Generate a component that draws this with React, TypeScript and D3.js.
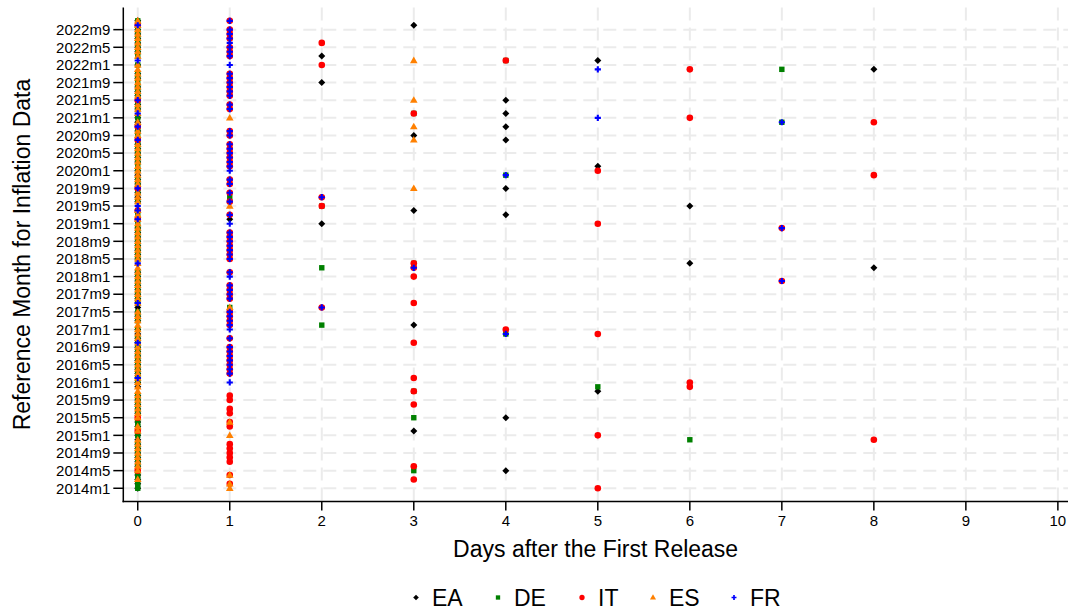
import React from 'react';
import * as d3 from 'd3';

const W = 1071;
const H = 613;

// reference months are indexed from 2014m1 (= 0); 2022m9 = 104, 2022m11 = 106
const Y_TICK_LABELS = [
  "2014m1", "2014m5", "2014m9", "2015m1", "2015m5", "2015m9", "2016m1", "2016m5", "2016m9",
  "2017m1", "2017m5", "2017m9", "2018m1", "2018m5", "2018m9", "2019m1", "2019m5", "2019m9",
  "2020m1", "2020m5", "2020m9", "2021m1", "2021m5", "2021m9", "2022m1", "2022m5", "2022m9",
];
const X_TICKS = [0, 1, 2, 3, 4, 5, 6, 7, 8, 9, 10];

const COUNTRIES = ["EA", "DE", "IT", "ES", "FR"];
const COLORS = ["#000000", "#008000", "#ff0000", "#ff8000", "#0000ff"];

// runs: [days after first release, first month, last month]
const EA_RUNS = [
  [0, 0, 3], [0, 5, 12], [0, 14, 15], [0, 17, 21], [0, 23, 36], [0, 38, 49], [0, 52, 59],
  [0, 65, 67], [0, 69, 72], [0, 74, 78], [0, 81, 81], [0, 83, 84], [0, 86, 87], [0, 89, 91],
  [0, 93, 94], [0, 96, 96], [0, 99, 104], [0, 106, 106],
  [1, 61, 61], [2, 60, 60], [2, 92, 92], [2, 98, 98],
  [3, 13, 13], [3, 37, 37], [3, 63, 63], [3, 80, 80], [3, 105, 105],
  [4, 4, 4], [4, 16, 16], [4, 62, 62], [4, 68, 68], [4, 79, 79], [4, 82, 82], [4, 85, 85], [4, 88, 88],
  [5, 22, 22], [5, 73, 73], [5, 97, 97], [6, 51, 51], [6, 64, 64], [8, 50, 50], [8, 95, 95],
];

const DE_RUNS = [
  [0, 0, 3], [0, 5, 10], [0, 12, 15], [0, 17, 21], [0, 24, 34], [0, 36, 36], [0, 38, 40],
  [0, 42, 49], [0, 52, 63], [0, 65, 65], [0, 67, 70], [0, 72, 82], [0, 84, 84], [0, 86, 94],
  [0, 96, 96], [0, 98, 106],
  [1, 41, 41], [1, 66, 66], [2, 37, 37], [2, 50, 50], [2, 64, 64],
  [3, 4, 4], [3, 16, 16], [3, 22, 22], [3, 51, 51], [3, 85, 85],
  [4, 35, 35], [4, 71, 71], [4, 97, 97], [5, 23, 23], [6, 11, 11], [7, 83, 83], [7, 95, 95],
];

const IT_RUNS = [
  [0, 4, 4], [0, 13, 13], [0, 16, 16], [0, 61, 61], [0, 63, 63], [0, 68, 68], [0, 79, 79],
  [0, 82, 82], [0, 88, 88], [0, 105, 105],
  [1, 1, 1], [1, 3, 3], [1, 6, 10], [1, 14, 15], [1, 17, 18], [1, 20, 21], [1, 26, 32],
  [1, 34, 34], [1, 37, 40], [1, 43, 46], [1, 49, 49], [1, 52, 58], [1, 62, 62], [1, 65, 65],
  [1, 67, 67], [1, 69, 70], [1, 73, 78], [1, 80, 81], [1, 86, 87], [1, 89, 94], [1, 98, 100],
  [1, 102, 104], [1, 106, 106],
  [2, 41, 41], [2, 64, 64], [2, 66, 66], [2, 96, 96], [2, 101, 101],
  [3, 2, 2], [3, 5, 5], [3, 19, 19], [3, 22, 22], [3, 25, 25], [3, 33, 33], [3, 42, 42],
  [3, 48, 48], [3, 50, 50], [3, 51, 51], [3, 85, 85],
  [4, 36, 36], [4, 97, 97],
  [5, 0, 0], [5, 12, 12], [5, 35, 35], [5, 60, 60], [5, 72, 72],
  [6, 23, 23], [6, 24, 24], [6, 84, 84], [6, 95, 95],
  [7, 47, 47], [7, 59, 59], [8, 11, 11], [8, 71, 71], [8, 83, 83],
];

const ES_RUNS = [
  [0, 2, 2], [0, 4, 11], [0, 13, 14], [0, 16, 40], [0, 42, 63], [0, 65, 67], [0, 69, 78],
  [0, 80, 81], [0, 83, 83], [0, 85, 87], [0, 89, 96], [0, 98, 106],
  [1, 0, 1], [1, 3, 3], [1, 12, 12], [1, 15, 15], [1, 41, 41], [1, 64, 64], [1, 84, 84],
  [3, 68, 68], [3, 79, 79], [3, 82, 82], [3, 88, 88], [3, 97, 97],
];

const FR_RUNS = [
  [0, 25, 25], [0, 33, 33], [0, 42, 42], [0, 51, 51], [0, 61, 61], [0, 63, 64], [0, 68, 68],
  [0, 79, 79], [0, 82, 82], [0, 85, 85], [0, 88, 88], [0, 97, 97], [0, 105, 105],
  [1, 24, 24], [1, 26, 32], [1, 34, 34], [1, 36, 40], [1, 43, 46], [1, 48, 49], [1, 52, 58],
  [1, 60, 60], [1, 62, 62], [1, 65, 65], [1, 67, 67], [1, 69, 70], [1, 72, 78], [1, 80, 81],
  [1, 86, 87], [1, 89, 94], [1, 96, 96], [1, 98, 104], [1, 106, 106],
  [2, 41, 41], [2, 66, 66], [3, 50, 50], [4, 35, 35], [4, 71, 71], [5, 84, 84], [5, 95, 95],
  [7, 47, 47], [7, 59, 59], [7, 83, 83],
];

const SERIES_RUNS = [EA_RUNS, DE_RUNS, IT_RUNS, ES_RUNS, FR_RUNS];

const FONT = "'Liberation Sans', Arial, Helvetica, sans-serif";
const LEGEND_X = [416, 498, 582, 653, 734];

const monthIndex = (label: string) => {
  const [y, m] = label.split("m").map(Number);
  return (y - 2014) * 12 + (m - 1);
};

const expand = (runs: number[][]) =>
  runs.flatMap(([day, a, b]) => d3.range(a, b + 1).map(t => ({ day, t })));

function Marker({ kind, x, y, color, k = 1 }: { kind: number; x: number; y: number; color: string; k?: number }) {
  if (kind === 0) {
    const r = 3.5 * k;
    return <path d={`M${x},${y - r}L${x + r},${y}L${x},${y + r}L${x - r},${y}Z`} fill={color} />;
  }
  if (kind === 1) {
    const s = 5.4 * k;
    return <rect x={x - s / 2} y={y - s / 2} width={s} height={s} fill={color} />;
  }
  if (kind === 2) {
    return <circle cx={x} cy={y} r={3.3 * k} fill={color} />;
  }
  if (kind === 3) {
    const w = 7.6 * k, h = 6.6 * k;
    return <path d={`M${x},${y - h * 0.6}L${x + w / 2},${y + h * 0.4}L${x - w / 2},${y + h * 0.4}Z`} fill={color} />;
  }
  const a = 3.1 * k;
  return (
    <path d={`M${x - a},${y}H${x + a}M${x},${y - a}V${y + a}`} stroke={color} strokeWidth={2.1 * k} fill="none" />
  );
}

export default function App() {
  const left = 123.3, right = 1068, top = 7.6, bottom = 501.5;

  const x = d3.scaleLinear().domain([-0.157, 10.11]).range([left, right]);
  const y = d3.scaleLinear().domain([-3, 109]).range([bottom, top]);

  const yTicks = Y_TICK_LABELS.map(label => ({ label, t: monthIndex(label) }));
  const series = SERIES_RUNS.map(expand);

  return (
    <svg width={W} height={H} style={{ position: "absolute", left: 0, top: 0, background: "#fff" }} fontFamily={FONT}>
      {/* grid */}
      <g stroke="#ebebeb" strokeWidth={2} strokeDasharray="13,7" fill="none">
        {yTicks.map(d => (
          <line key={d.label} x1={left} x2={right} y1={y(d.t)} y2={y(d.t)} />
        ))}
        {X_TICKS.map(d => (
          <line key={d} x1={x(d)} x2={x(d)} y1={top} y2={bottom} />
        ))}
      </g>

      {/* points */}
      {series.map((pts, i) => (
        <g key={COUNTRIES[i]}>
          {pts.map((p, j) => (
            <Marker key={j} kind={i} x={x(p.day)} y={y(p.t)} color={COLORS[i]} />
          ))}
        </g>
      ))}

      {/* axes */}
      <g stroke="#000" strokeWidth={1.5}>
        <line x1={left} x2={left} y1={top} y2={bottom + 0.75} />
        <line x1={left - 0.75} x2={right} y1={bottom} y2={bottom} />
        {yTicks.map(d => (
          <line key={d.label} x1={left - 10} x2={left} y1={y(d.t)} y2={y(d.t)} />
        ))}
        {X_TICKS.map(d => (
          <line key={d} x1={x(d)} x2={x(d)} y1={bottom} y2={bottom + 9} />
        ))}
      </g>
      <g fontSize={15} fill="#000">
        {yTicks.map(d => (
          <text key={d.label} x={left - 13} y={y(d.t)} dy="0.35em" textAnchor="end">{d.label}</text>
        ))}
        {X_TICKS.map(d => (
          <text key={d} x={x(d)} y={526} textAnchor="middle">{d}</text>
        ))}
      </g>

      <text x={(left + right) / 2} y={557} textAnchor="middle" fontSize={23}>Days after the First Release</text>
      <text transform={`translate(29.5,${(top + bottom) / 2}) rotate(-90)`} textAnchor="middle" fontSize={23}>
        Reference Month for Inflation Data
      </text>

      {/* legend */}
      {COUNTRIES.map((c, i) => (
        <g key={c}>
          <Marker kind={i} x={LEGEND_X[i]} y={597.5} color={COLORS[i]} k={0.8} />
          <text x={LEGEND_X[i] + 16} y={606} fontSize={23}>{c}</text>
        </g>
      ))}
    </svg>
  );
}
